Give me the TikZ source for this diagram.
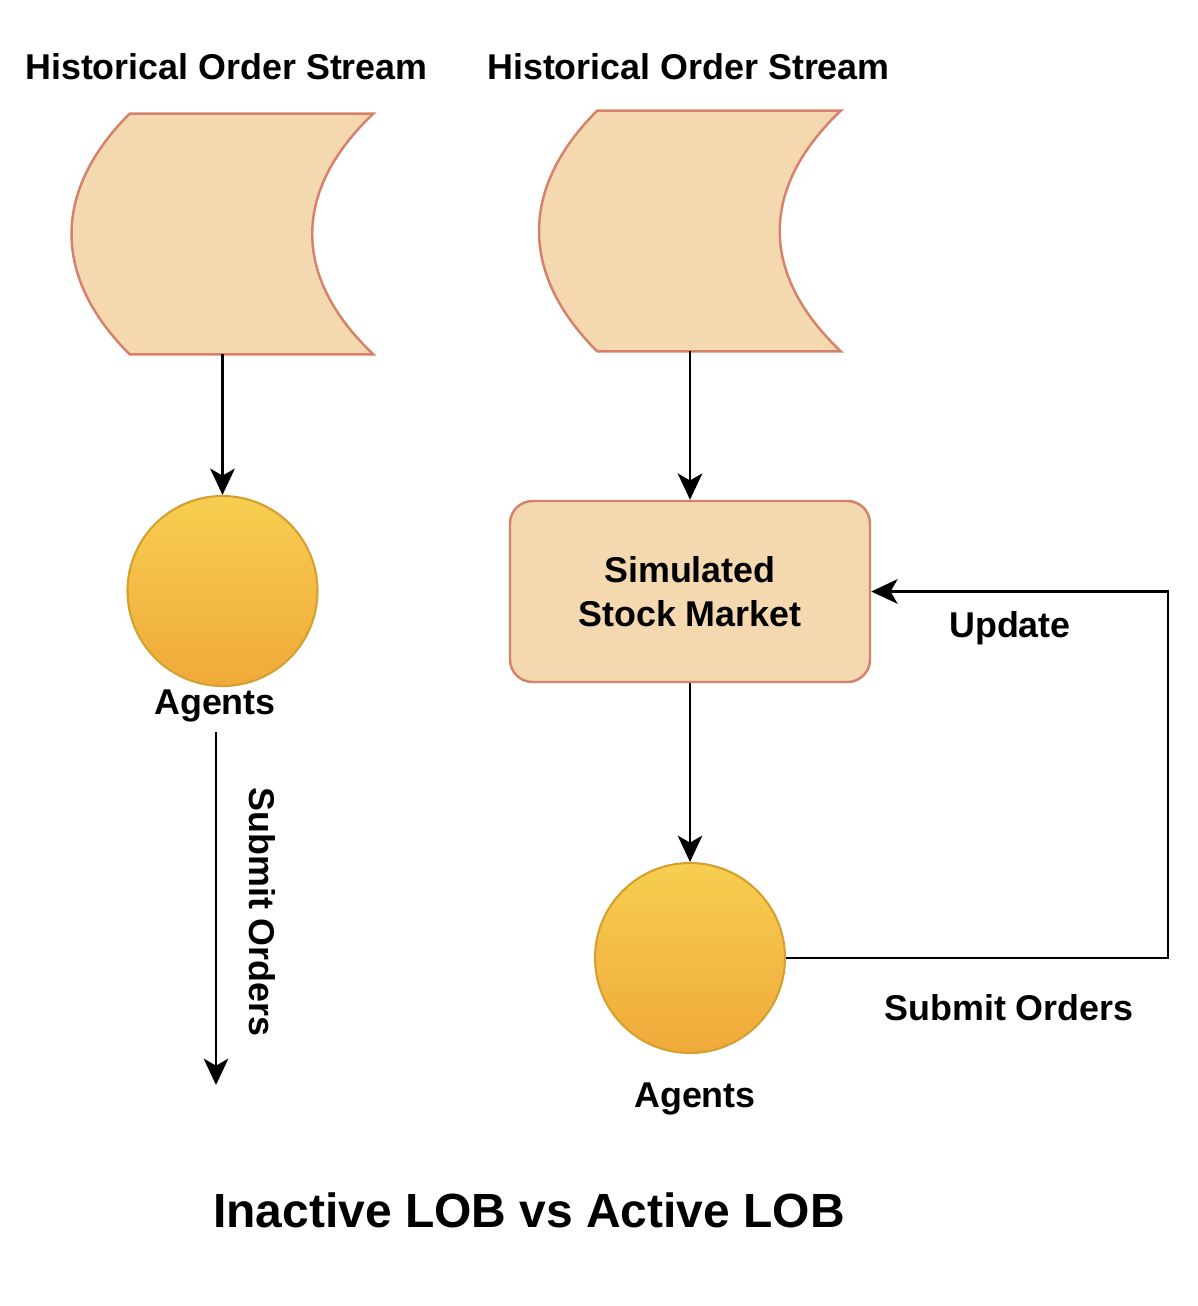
\documentclass[tikz,border=0pt]{standalone}
\usepackage{fontspec}
\setmainfont{Liberation Sans}
\usepackage{xcolor}
\usepackage{tikz}
\usetikzlibrary{arrows.meta}
\usetikzlibrary{calc}
\definecolor{storefill}{HTML}{F3D8B0}
\definecolor{storeline}{HTML}{D6826A}
\definecolor{agtop}{HTML}{F7CE50}
\definecolor{agbot}{HTML}{F0A93A}
\definecolor{agline}{HTML}{D4A030}
\tikzset{
    tnode/.style = {align=center, inner sep=0pt, text centered, font=\fontsize{20.4}{25}\selectfont\bfseries},
    store/.style = {rectangle, minimum width=6.02cm, minimum height=4.8cm, inner sep=0pt},
    storeshape/.style = {draw=storeline, fill=storefill, line width=1.4pt},
    market/.style = {tnode, rectangle, rounded corners=0.45cm, draw=storeline, fill=storefill, line width=1.4pt, minimum width=7.2cm, minimum height=3.62cm},
    agent/.style = {circle, draw=agline, top color=agtop, bottom color=agbot, line width=1.2pt, minimum size=3.8cm, inner sep=0pt},
    title/.style = {tnode, font=\fontsize{27.3}{32}\selectfont\bfseries},
    flow/.style = {line width=1.4pt, -{Stealth[length=15pt, width=14pt, inset=4pt]}}
}

\begin{document}
\begin{tikzpicture}

            \useasboundingbox (0,0) rectangle (23.96,-26.12);

            % inactive LOB
            \node [tnode] (hosLlbl) at (4.53,-1.34) {Historical Order Stream};
            \node [store] (hosL) at (4.45,-4.68) {};
            \node [agent] (agL) at (4.45,-11.82) {};
            \node [tnode] (agLlbl) at (4.30,-14.12) {Agents};
            \coordinate (endL) at (4.32,-21.70);
            \node [tnode, rotate=-90] (subL) at (5.24,-18.24) {Submit Orders};

            % active LOB
            \node [tnode] (hosRlbl) at (13.77,-1.34) {Historical Order Stream};
            \node [store] (hosR) at (13.80,-4.62) {};
            \node [market] (mkt) at (13.80,-11.83) {Simulated\\Stock Market};
            \node [agent] (agR) at (13.80,-19.16) {};
            \node [tnode] (agRlbl) at (13.90,-21.98) {Agents};
            \coordinate (loop) at (23.36,-19.16);
            \node [tnode] (upd) at (20.20,-12.56) {Update};
            \node [tnode] (subR) at (20.18,-20.16) {Submit Orders};

            \node [title] (ttl) at (10.58,-24.20) {Inactive LOB vs Active LOB};

            \foreach \s in {hosL,hosR}
                \draw [storeshape]
                    ($(\s.north west)+(1.16,0)$) -- (\s.north east)
                    .. controls ($(\s.east)+(-1.63,0.86)$) and ($(\s.east)+(-1.63,-0.86)$) .. (\s.south east)
                    -- ($(\s.south west)+(1.16,0)$)
                    .. controls ($(\s.west)+(-0.39,-0.86)$) and ($(\s.west)+(-0.39,0.86)$) .. cycle;

            \draw [flow] (hosL.south) -- (agL.north);
            \draw [flow] ($(agLlbl.south)+(0.02,-0.2)$) -- (endL);

            \draw [flow] (hosR.south) -- (mkt.north);
            \draw [flow] (mkt.south) -- (agR.north);
            \draw [flow] (agR.east) -- (loop) |- (mkt.east);
\end{tikzpicture}
\end{document}
